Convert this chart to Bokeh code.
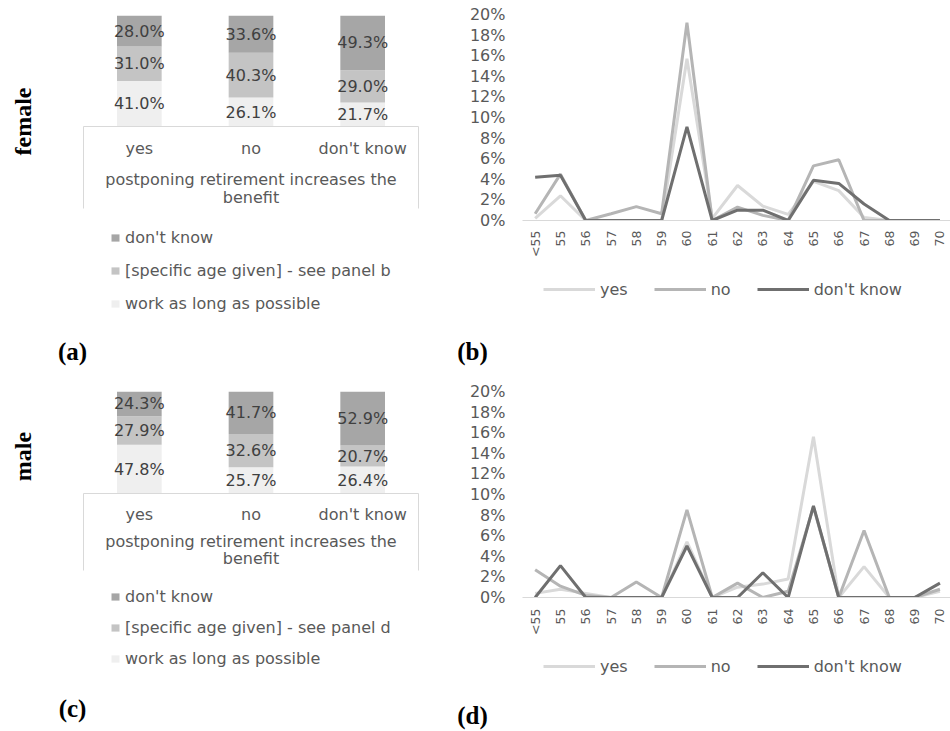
import math
from bokeh.plotting import figure
from bokeh.models import (Range1d, LinearAxis, FixedTicker, Legend, LegendItem, Label,
                          PrintfTickFormatter, ColumnDataSource)
from bokeh.layouts import column, row
from bokeh.embed import file_html
from bokeh.resources import INLINE
from bokeh.core.properties import value

# ---------------- data ----------------
answers = ["yes", "no", "don't know"]
axis_title = "postponing retirement increases the\nbenefit"
plan_labels_f = ["don't know", "[specific age given] - see panel b", "work as long as possible"]
plan_labels_m = ["don't know", "[specific age given] - see panel d", "work as long as possible"]

female_work = [41.0, 26.1, 21.7]
female_age = [31.0, 40.3, 29.0]
female_dk = [28.0, 33.6, 49.3]
male_work = [47.8, 25.7, 26.4]
male_age = [27.9, 32.6, 20.7]
male_dk = [24.3, 41.7, 52.9]

ages = ["<55", "55", "56", "57", "58", "59", "60", "61", "62", "63", "64",
        "65", "66", "67", "68", "69", "70"]
series_names = ["yes", "no", "don't know"]
female_yes = [0.2, 2.4, 0.0, 0.0, 0.0, 0.0, 15.7, 0.2, 3.4, 1.4, 0.6, 3.8, 2.9, 0.3, 0.0, 0.0, 0.0]
female_no = [0.65, 4.5, 0.0, 0.65, 1.35, 0.65, 19.2, 0.0, 1.3, 0.5, 0.0, 5.3, 5.9, 0.0, 0.0, 0.0, 0.0]
female_dkn = [4.2, 4.4, 0.0, 0.0, 0.0, 0.0, 9.1, 0.0, 1.0, 1.0, 0.0, 3.9, 3.6, 1.6, 0.0, 0.0, 0.0]
male_yes = [0.4, 0.8, 0.4, 0.0, 0.0, 0.0, 5.4, 0.0, 1.0, 1.3, 1.8, 15.6, 0.0, 3.0, 0.0, 0.0, 0.6]
male_no = [2.7, 1.1, 0.2, 0.0, 1.5, 0.0, 8.5, 0.0, 1.4, 0.0, 0.6, 8.8, 0.0, 6.5, 0.0, 0.0, 0.8]
male_dkn = [0.0, 3.1, 0.0, 0.0, 0.0, 0.0, 5.0, 0.0, 0.0, 2.4, 0.0, 8.9, 0.0, 0.0, 0.0, 0.0, 1.4]

# ---------------- style ----------------
SANS = "DejaVu Sans"
SERIF = "Liberation Serif"
TXT = "#595959"
BAR_TXT = "#404040"
AXIS_C = "#d9d9d9"
BAR_COLORS = ["#efefef", "#c4c4c4", "#a6a6a6"]      # work, age, don't know
LINE_COLORS = ["#d9d9d9", "#b5b5b5", "#6f6f6f"]     # yes, no, don't know
LABEL_COL_W = 50


def no_align(p):
    if "frame_align" in p.properties():
        p.frame_align = False
    return p


def blank(width, height):
    p = figure(width=width, height=height, output_backend="svg", toolbar_location=None,
               x_range=Range1d(0, 1), y_range=Range1d(0, 1), x_axis_type=None,
               y_axis_type=None, min_border=0)
    p.outline_line_color = None
    return no_align(p)


def bold_label(p, text, x, y, angle=0.0, size="25px"):
    p.add_layout(Label(x=x, y=y, x_units="screen", y_units="screen", text=text, angle=angle,
                       text_align="center", text_baseline="middle", text_font=SERIF,
                       text_font_style="bold", text_font_size=size, text_color="black"))


def bar_top(work, age, dk, height, frame_top, frame_h, box_len, lab_standoff,
            title_standoff, title_lh):
    p = figure(width=440 - LABEL_COL_W, height=height, output_backend="svg",
               toolbar_location=None,
               x_range=Range1d(-0.5, len(answers) - 0.5), y_range=Range1d(0, 100),
               x_axis_type=None, y_axis_type=None,
               min_border_left=83 - LABEL_COL_W, min_border_right=22, min_border_top=frame_top,
               min_border_bottom=height - frame_top - frame_h)
    no_align(p)
    p.outline_line_color = None
    xs = list(range(len(answers)))
    src = ColumnDataSource(dict(x=xs, work=work, age=age, dk=dk))
    p.vbar_stack(["work", "age", "dk"], x="x", width=0.4, source=src,
                 fill_color=BAR_COLORS, line_color=None)
    lx, ly, lt = [], [], []
    base = [0.0] * len(xs)
    for layer in (work, age, dk):
        for i, v in enumerate(layer):
            lx.append(xs[i])
            ly.append(base[i] + v / 2)
            lt.append(f"{v:.1f}%")
            base[i] += v
    p.text(x=lx, y=ly, text=lt, text_align="center", text_baseline="middle",
           text_font=value(SANS), text_font_size="16px", text_color=BAR_TXT)

    ax = LinearAxis(ticker=FixedTicker(ticks=xs, minor_ticks=[-0.5, len(answers) - 0.5]),
                    major_label_overrides={i: a for i, a in enumerate(answers)},
                    axis_label=axis_title)
    ax.axis_line_color = AXIS_C
    ax.major_tick_out = 0
    ax.major_tick_in = 0
    ax.major_tick_line_color = None
    ax.minor_tick_out = box_len
    ax.minor_tick_in = 0
    ax.minor_tick_line_color = AXIS_C
    ax.major_label_standoff = lab_standoff - box_len
    ax.major_label_text_font = SANS
    ax.major_label_text_font_size = "16px"
    ax.major_label_text_color = TXT
    ax.axis_label_standoff = title_standoff
    ax.axis_label_text_font = SANS
    ax.axis_label_text_font_size = "16px"
    ax.axis_label_text_font_style = "normal"
    ax.axis_label_text_color = TXT
    ax.axis_label_text_line_height = title_lh
    p.add_layout(ax, "below")
    return p


def bar_legend(plan_labels, height, leg_y, leg_spacing, ptext, py):
    p = blank(440 - LABEL_COL_W, height)
    # zero-size legend proxies (nothing visible in the plot area)
    proxies = [p.vbar(x=[0], top=[0], bottom=[0], width=0, fill_color=c, line_color=None)
               for c in reversed(BAR_COLORS)]
    leg = Legend(items=[LegendItem(label=t, renderers=[r]) for t, r in zip(plan_labels, proxies)],
                 location=(110 - LABEL_COL_W, leg_y), orientation="vertical",
                 glyph_width=10, glyph_height=9, label_standoff=5, label_height=20,
                 spacing=leg_spacing, padding=0, margin=0,
                 border_line_color=None, background_fill_alpha=0,
                 label_text_font=SANS, label_text_font_size="16px", label_text_color=TXT)
    p.add_layout(leg)
    bold_label(p, ptext, 72 - LABEL_COL_W, py)
    return p


def line_top(yes, no, dk, height, frame_top, frame_h, lab_standoff):
    step = 25.3
    frame_w = 950 - 522
    xs = list(range(len(ages)))
    p = figure(width=510, height=height, output_backend="svg", toolbar_location=None,
               x_range=Range1d(-0.5, -0.5 + frame_w / step), y_range=Range1d(0, 20),
               x_axis_type=None, y_axis_type=None,
               min_border_left=82, min_border_right=0, min_border_top=frame_top,
               min_border_bottom=height - frame_top - frame_h)
    no_align(p)
    p.outline_line_color = None

    yax = LinearAxis(ticker=FixedTicker(ticks=list(range(0, 21, 2))),
                     formatter=PrintfTickFormatter(format="%d%%"))
    yax.axis_line_color = None
    yax.major_tick_line_color = None
    yax.minor_tick_line_color = None
    yax.major_tick_out = 0
    yax.minor_tick_out = 0
    yax.major_label_standoff = 17
    yax.major_label_text_font = SANS
    yax.major_label_text_font_size = "16px"
    yax.major_label_text_color = TXT
    p.add_layout(yax, "left")

    xax = LinearAxis(ticker=FixedTicker(ticks=xs),
                     major_label_overrides={i: a for i, a in enumerate(ages)})
    xax.axis_line_color = AXIS_C
    xax.major_tick_line_color = None
    xax.minor_tick_line_color = None
    xax.major_tick_out = 0
    xax.minor_tick_out = 0
    xax.major_label_orientation = math.pi / 2
    xax.major_label_standoff = lab_standoff
    xax.major_label_text_font = SANS
    xax.major_label_text_font_size = "12.5px"
    xax.major_label_text_color = TXT
    p.add_layout(xax, "below")

    for vals, col in zip((yes, no, dk), LINE_COLORS):
        p.line(xs, vals, line_color=col, line_width=3)
    return p


def line_legend(height, leg_y, ptext, py):
    p = blank(510, height)
    # zero-length legend proxies (nothing visible in the plot area)
    proxies = [p.line(x=[0, 0], y=[0, 0], line_color=c, line_width=3) for c in LINE_COLORS]
    leg = Legend(items=[LegendItem(label=n, renderers=[r]) for n, r in zip(series_names, proxies)],
                 location=(103, leg_y), orientation="horizontal",
                 glyph_width=52, glyph_height=20, label_standoff=5, label_height=20,
                 spacing=26, padding=0, margin=0,
                 border_line_color=None, background_fill_alpha=0,
                 label_text_font=SANS, label_text_font_size="16px", label_text_color=TXT)
    p.add_layout(leg)
    bold_label(p, ptext, 32, py)
    return p


# left label column
fl = blank(LABEL_COL_W, 380)
bold_label(fl, "female", 22, 380 - 121, angle=math.pi / 2, size="24px")
ml = blank(LABEL_COL_W, 351)
bold_label(ml, "male", 22, 351 - 76, angle=math.pi / 2, size="24px")

# female row (0..380), male row (380..731)
pa = bar_top(female_work, female_age, female_dk, height=216, frame_top=15, frame_h=111,
             box_len=82, lab_standoff=12, title_standoff=9, title_lh=0.95)
pa_leg = bar_legend(plan_labels_f, height=164, leg_y=67, leg_spacing=13, ptext="(a)", py=29)
pb = line_top(female_yes, female_no, female_dkn, height=260, frame_top=14, frame_h=206,
              lab_standoff=10)
pb_leg = line_legend(height=120, leg_y=81, ptext="(b)", py=29)

pc = bar_top(male_work, male_age, male_dk, height=193, frame_top=11, frame_h=102,
             box_len=77, lab_standoff=11, title_standoff=5, title_lh=0.9)
pc_leg = bar_legend(plan_labels_m, height=158, leg_y=63, leg_spacing=11, ptext="(c)", py=23)
pd_ = line_top(male_yes, male_no, male_dkn, height=257, frame_top=11, frame_h=206,
               lab_standoff=11)
pd_leg = line_legend(height=94, leg_y=55, ptext="(d)", py=16)

layout = row(column(fl, ml), column(pa, pa_leg, pc, pc_leg), column(pb, pb_leg, pd_, pd_leg))
open("out.html", "w").write(file_html(layout, INLINE))
